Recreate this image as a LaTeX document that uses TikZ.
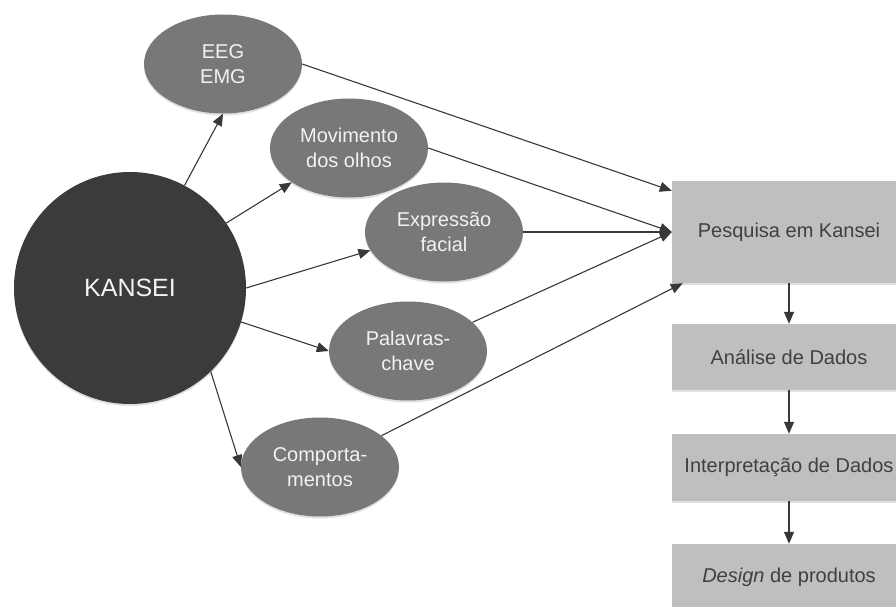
\documentclass[tikz,border=0pt]{standalone}
\usepackage{fontspec}
\setmainfont{Liberation Sans}
\usetikzlibrary{arrows.meta,shapes.geometric,shadows}
\definecolor{kdark}{HTML}{3B3B3B}
\definecolor{egray}{HTML}{787878}
\definecolor{bgray}{HTML}{BFBFBF}
\definecolor{lgray}{HTML}{383838}
\definecolor{btext}{HTML}{404040}
\definecolor{etext}{HTML}{F2F2F2}
\begin{document}
\begin{tikzpicture}[x=1pt,y=-1pt,
  softshadow/.style={drop shadow={shadow xshift=0pt, shadow yshift=-2pt, opacity=0.12, fill=black}},
  ell/.style={ellipse, fill=egray, minimum width=158pt, minimum height=99pt, inner sep=0pt,
    text=etext, align=center, font=\fontsize{20}{25}\selectfont, softshadow},
  bigcirc/.style={circle, fill=kdark, minimum size=232pt, inner sep=0pt, text=etext,
    font=\fontsize{25}{30}\selectfont, softshadow},
  stepbox/.style={rectangle, fill=bgray, minimum width=234pt, inner sep=0pt, text=btext,
    font=\fontsize{20}{24}\selectfont, softshadow},
  conn/.style={draw=lgray, line width=1.1pt, -{Triangle[length=12pt,width=10pt]}}
]
\useasboundingbox (0,0) rectangle (896,607);
\clip (0,0) rectangle (896,607);

\node[bigcirc] (K) at (130,288) {KANSEI};
\node[ell] (E) at (223,64) {EEG\\EMG};
\node[ell] (M) at (349,148) {Movimento\\dos olhos};
\node[ell] (X) at (444,232) {Expressão\\facial};
\node[ell] (W) at (408,351) {Palavras-\\chave};
\node[ell] (C) at (320,467) {Comporta-\\mentos};

\node[stepbox, minimum height=102pt] (P) at (789,232) {Pesquisa em Kansei};
\node[stepbox, minimum height=66pt] (A) at (789,357) {Análise de Dados};
\node[stepbox, minimum height=67pt] (I) at (789,467.5) {Interpretação de Dados};
\node[stepbox, minimum height=66pt] (D) at (789,577) {\textit{Design} de produtos};

\draw[conn] (K.62) -- (E.south);
\draw[conn] (K.34) -- (M.211);
\draw[conn] (K.east) -- (X.194);
\draw[conn] (K.-17) -- (W.west);
\draw[conn] (K.-46) -- (C.west);

\draw[conn] (E.east) -- ([yshift=-10pt]P.north west);
\draw[conn] (M.east) -- (P.west);
\draw[conn] (X.east) -- (P.west);
\draw[conn] (W.24) -- (P.west);
\draw[conn] (C.27) -- ([xshift=11pt]P.south west);

\draw[conn] (P.south) -- (A.north);
\draw[conn] (A.south) -- (I.north);
\draw[conn] (I.south) -- (D.north);
\end{tikzpicture}
\end{document}
